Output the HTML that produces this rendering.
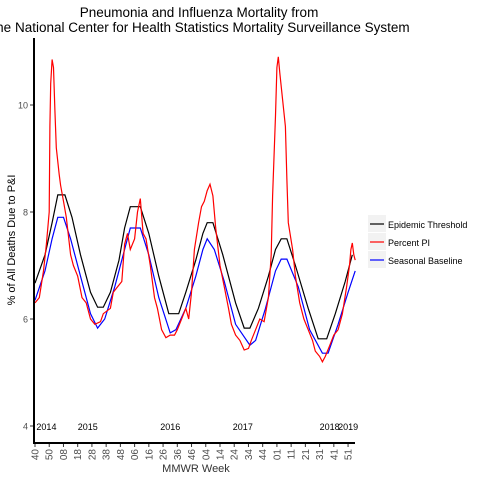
<!DOCTYPE html>
<html><head><meta charset="utf-8"><style>
body{margin:0;background:#fff;width:480px;height:480px;overflow:hidden}
svg{font-family:"Liberation Sans",Arial,sans-serif}
</style></head><body>
<svg id="chart" width="480" height="480">
<text x="199" y="17" font-size="13.5" text-anchor="middle">Pneumonia and Influenza Mortality from</text>
<text x="201" y="32" font-size="13.5" text-anchor="middle">the National Center for Health Statistics Mortality Surveillance System</text>
<text transform="translate(15,240) rotate(-90)" font-size="11" text-anchor="middle">% of All Deaths Due to P&amp;I</text>
<text x="196" y="472" font-size="11" text-anchor="middle" fill="#333">MMWR Week</text>
<g id="grid"></g><g id="series"></g>
<line x1="34" y1="38" x2="34" y2="444" stroke="#000" stroke-width="2"/>
<line x1="33" y1="443" x2="355" y2="443" stroke="#000" stroke-width="2"/>
<g>
<rect x="368" y="215" width="18" height="17" fill="#f2f2f2"/>
<line x1="370" y1="224" x2="384" y2="224" stroke="#000" stroke-width="1.2"/>
<text x="388" y="228" font-size="9">Epidemic Threshold</text>
<rect x="368" y="233" width="18" height="17" fill="#f2f2f2"/>
<line x1="370" y1="242" x2="384" y2="242" stroke="#f00" stroke-width="1.2"/>
<text x="388" y="246" font-size="9">Percent PI</text>
<rect x="368" y="251" width="18" height="17" fill="#f2f2f2"/>
<line x1="370" y1="260" x2="384" y2="260" stroke="#00f" stroke-width="1.2"/>
<text x="388" y="264" font-size="9">Seasonal Baseline</text>
</g>
</svg>
<script>
const yTicks=[4,6,8,10];
const xTickLabels=["40","50","08","18","28","38","48","06","16","26","36","46","04","14","24","34","44","01","11","21","31","41","51"];
const yearLabels=["2014","2015","2016","2017","2018","2019"];
const yearWeeks=[1,30,88,139,200,213];
const thrWeeks=[0,7,12,16,21,26,32,39,44,48,53,59,63,67,74,80,87,94,101,106,113,118,121,125,132,141,147,151,157,164,169,173,177,183,192,199,205,211,218,223];
const thrVals=[6.67,7.2,7.8,8.32,8.32,7.9,7.2,6.5,6.22,6.22,6.5,7.1,7.7,8.1,8.1,7.6,6.8,6.1,6.1,6.5,7.1,7.6,7.8,7.8,7.2,6.3,5.83,5.83,6.2,6.8,7.3,7.5,7.5,7.0,6.2,5.63,5.63,6.1,6.7,7.2];
const baseWeeks=[0,7,12,16,20,25,32,39,44,49,56,63,67,74,80,87,95,99,106,113,118,121,126,133,141,151,155,162,169,173,177,185,193,202,206,213,220,225];
const baseVals=[6.35,6.9,7.5,7.9,7.9,7.5,6.8,6.1,5.83,6.0,6.6,7.3,7.7,7.7,7.2,6.4,5.74,5.8,6.2,6.8,7.3,7.5,7.3,6.7,5.9,5.51,5.6,6.2,6.9,7.12,7.12,6.6,5.8,5.36,5.36,5.9,6.5,6.9];
const piWeeks=[0,3,6,8,10,10.5,11,12,13,14,15,17,18,20,22,25,27,30,33,36,39,42,46,48,53,55,58,61,63,65,67,70,72,74,76,78,81,84,86,89,92,95,98,100,103,106,108,110,112,115,117,119,121,123,125,127,130,133,136,138,141,144,147,150,152,155,158,161,164,166,167,169,170,171,172,174,176,177,178,181,183,186,189,192,195,197,200,202,204,207,210,213,216,219,221,222,223,224,225];
const piVals=[6.3,6.4,6.9,7.4,8.0,9.6,10.4,10.85,10.7,9.9,9.2,8.7,8.5,8.2,7.9,7.2,7.0,6.8,6.4,6.3,6.0,5.9,5.95,6.1,6.2,6.5,6.6,6.7,7.4,7.6,7.3,7.5,8.0,8.25,7.6,7.5,7.0,6.4,6.2,5.8,5.65,5.7,5.7,5.8,6.0,6.2,6.0,6.5,7.3,7.8,8.1,8.2,8.4,8.52,8.3,7.7,7.0,6.6,6.2,5.9,5.7,5.6,5.42,5.45,5.6,5.8,6.0,5.95,6.4,7.2,8.3,9.8,10.7,10.9,10.6,10.1,9.6,8.6,7.8,7.3,6.8,6.3,6.0,5.8,5.6,5.4,5.3,5.2,5.3,5.5,5.7,5.8,6.1,6.6,7.0,7.3,7.42,7.2,7.1];
const NS="http://www.w3.org/2000/svg";
function xs(w){return 35+w*1.423;}
function ys(v){return 426-(v-4)*53.5;}
const grid=document.getElementById('grid'),ser=document.getElementById('series');
yTicks.forEach(t=>{
 const l=document.createElementNS(NS,'line');
 l.setAttribute('x1',30);l.setAttribute('x2',34);l.setAttribute('y1',ys(t));l.setAttribute('y2',ys(t));l.setAttribute('stroke','#333');
 
 
 grid.appendChild(l);
 const tx=document.createElementNS(NS,'text');
 tx.setAttribute('x',28);tx.setAttribute('y',ys(t)+3.5);tx.setAttribute('font-size','9');tx.setAttribute('text-anchor','end');tx.setAttribute('fill','#4d4d4d');
 tx.textContent=t;
 
 
 grid.appendChild(tx);
});
xTickLabels.forEach((lab,i)=>{
 const x=xs(i*10);
 const l=document.createElementNS(NS,'line');
 l.setAttribute('x1',x);l.setAttribute('x2',x);l.setAttribute('y1',443);l.setAttribute('y2',447);l.setAttribute('stroke','#333');
 
 
 grid.appendChild(l);
 const tx=document.createElementNS(NS,'text');
 tx.setAttribute('transform','translate('+(x+3.5)+',449) rotate(-90)');
 tx.setAttribute('font-size','10');tx.setAttribute('text-anchor','end');tx.setAttribute('fill','#4d4d4d');
 tx.textContent=lab;
 
 
 grid.appendChild(tx);
});
yearLabels.forEach((y,i)=>{
 const tx=document.createElementNS(NS,'text');
 tx.setAttribute('x',xs(yearWeeks[i]));tx.setAttribute('y',430);tx.setAttribute('font-size','9');
 tx.textContent=y;
 
 
 grid.appendChild(tx);
});
function line(ws,vs,color,name){
 const p=document.createElementNS(NS,'polyline');
 p.setAttribute('points',ws.map((w,i)=>xs(w).toFixed(1)+','+ys(vs[i]).toFixed(1)).join(' '));
 p.setAttribute('fill','none');p.setAttribute('stroke',color);p.setAttribute('stroke-width','1.2');
 
 
 ser.appendChild(p);
}
line(thrWeeks,thrVals,'#000','epidemic-threshold-line');
line(baseWeeks,baseVals,'#00f','seasonal-baseline-line');
line(piWeeks,piVals,'#f00','percent-pi-line');
</script>
</body></html>
